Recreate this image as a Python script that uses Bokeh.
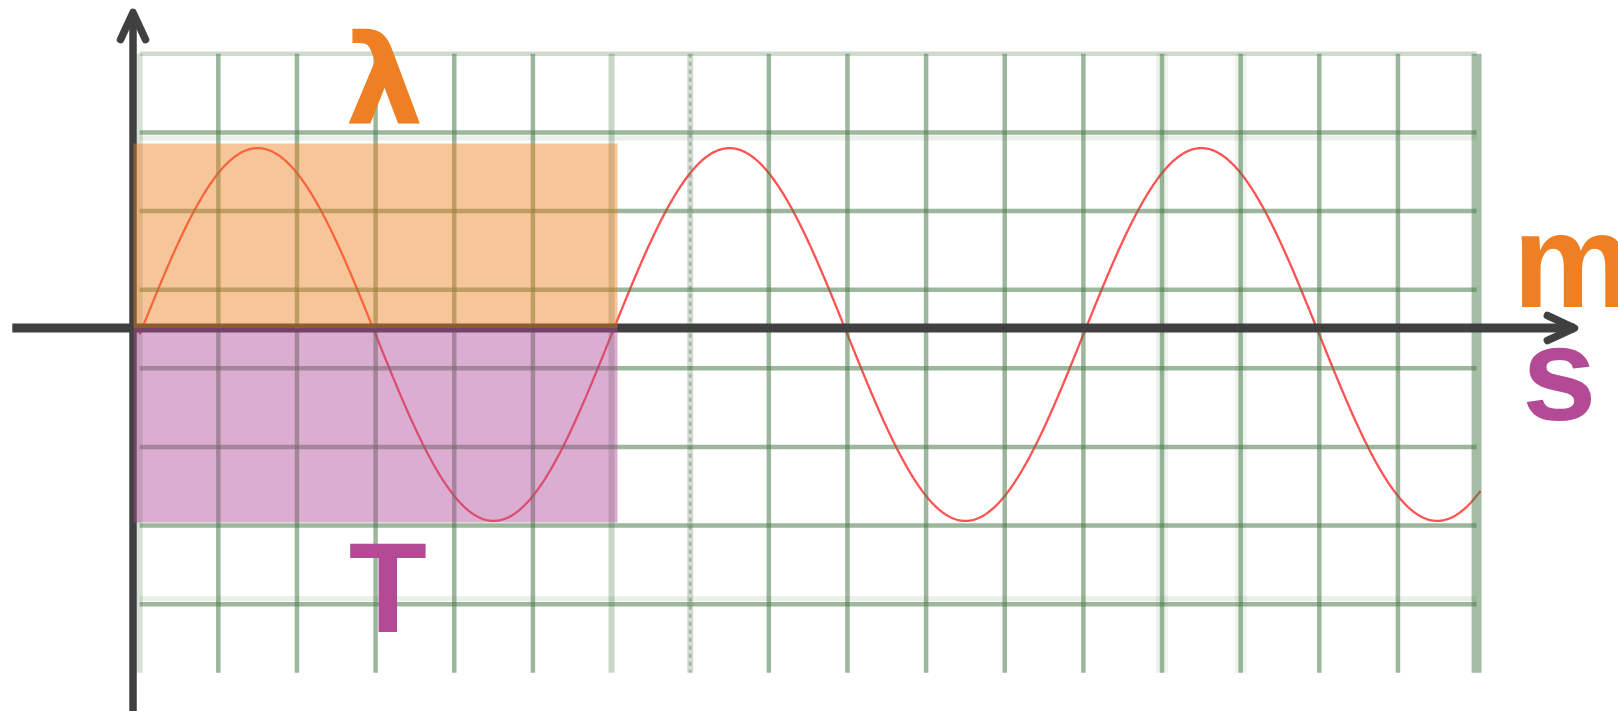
import numpy as np
from bokeh.plotting import figure
from bokeh.models import Range1d, ColumnDataSource
from bokeh.embed import file_html
from bokeh.resources import INLINE
from bokeh.core.properties import value

# ---------------- data (grid units: 1 = one grid cell) ----------------
wavelength = 6.0        # one period spans 6 grid cells (λ on distance, T on time)
amplitude = 2.37        # peak height in grid cells
wave_offset = -0.07     # small vertical offset of the drawn wave
wave_start = 0.0
wave_end = 17.05

grid_x = [0, 1, 2, 3, 4, 5, 6, 7, 8, 9, 10, 11, 12, 13, 14, 15, 16, 17]
grid_y = [3.5, 2.5, 1.5, 0.5, -0.5, -1.5, -2.5, -3.5]
grid_y_bottom = -4.37

labels = ["λ", "m", "s", "T"]

# ---------------- figure / layout ----------------
PX = 78.64                      # pixels per grid cell
W, H = 1618, 711
x_start = -1.7701
y_top = 4.1773
p = figure(width=W, height=H,
           x_range=Range1d(x_start, x_start + W / PX),
           y_range=Range1d(y_top - H / PX, y_top),
           output_backend="svg", toolbar_location=None,
           x_axis_location=None, y_axis_location=None,
           min_border=0, outline_line_color=None,
           background_fill_color="white", border_fill_color="white")
p.xgrid.visible = False
p.ygrid.visible = False

# ---------------- wave ----------------
xs = np.linspace(wave_start, wave_end, 1500)
ys = wave_offset + amplitude * np.sin(2 * np.pi * (xs - wave_start) / wavelength)
p.line(xs, ys, line_color="#ff3434", line_width=2.3, line_alpha=0.85)

# ---------------- grid ----------------
GREEN = "#4a7c4a"
light_x = {0: 0.22, 6: 0.3, 7: 0.25}
halo_x = {13, 14}
v = dict(x0=[], y0=[], x1=[], y1=[], w=[], a=[], c=[])
def add(d, x0, y0, x1, y1, w, a, c=GREEN):
    d["x0"].append(x0); d["y0"].append(y0); d["x1"].append(x1); d["y1"].append(y1)
    d["w"].append(w); d["a"].append(a); d["c"].append(c)

for gx in grid_x:
    if gx in halo_x:
        add(v, gx, grid_y[0], gx, grid_y_bottom, 12, 0.09)
    if gx == grid_x[-1]:
        add(v, gx, grid_y[0], gx, grid_y_bottom, 10, 0.5)
    elif gx in light_x:
        add(v, gx, grid_y[0], gx, grid_y_bottom, 6, light_x[gx])
    else:
        add(v, gx, grid_y[0], gx, grid_y_bottom, 4.5, 0.55)
for gy in grid_y:
    a = 0.28 if gy == grid_y[0] else 0.55
    add(v, grid_x[0], gy, grid_x[-1], gy, 4.5, a)
# faint doubled bands seen in the reference
add(v, grid_x[0], grid_y[1] - 0.07, grid_x[-1], grid_y[1] - 0.07, 5, 0.12)
add(v, grid_x[0], grid_y[-1] + 0.07, grid_x[-1], grid_y[-1] + 0.07, 5, 0.12)
p.segment(x0="x0", y0="y0", x1="x1", y1="y1", line_width="w", line_alpha="a",
          line_color="c", line_cap="butt", source=ColumnDataSource(v))
# dashed-looking line at x = 7
p.segment(x0=[7], y0=[grid_y[0]], x1=[7], y1=[grid_y_bottom], line_color="#666666",
          line_alpha=0.35, line_width=3, line_dash="4 4", line_cap="butt")

# ---------------- axes with arrows ----------------
AX = "#404040"
yaxis_x = -0.085
xaxis_y = 0.012
p.segment(x0=[-1.62], y0=[xaxis_y], x1=[18.245], y1=[xaxis_y], line_color=AX,
          line_width=9, line_cap="butt")
p.segment(x0=[yaxis_x], y0=[-5.0], x1=[yaxis_x], y1=[4.025], line_color=AX,
          line_width=7.5, line_cap="butt")
p.multi_line(xs=[[-0.244, yaxis_x, 0.074], [17.90, 18.245, 17.90]],
             ys=[[3.68, 4.025, 3.68], [0.172, xaxis_y, -0.146]],
             line_color=AX, line_width=7.5, line_cap="round", line_join="round")

# ---------------- wavelength / period boxes ----------------
box_left = -0.079
box_right = wave_start + wavelength + 0.076
p.quad(left=[box_left], right=[box_right], bottom=[xaxis_y], top=[amplitude - 0.01],
       fill_color="#ee7f20", fill_alpha=0.45, line_color=None)
p.quad(left=[box_left], right=[box_right], bottom=[wave_offset - amplitude - 0.02], top=[xaxis_y],
       fill_color="#b04a98", fill_alpha=0.45, line_color=None)

# ---------------- labels ----------------
ORANGE = "#ee7f22"
PURPLE = "#b34a96"
FONT = value("Liberation Sans")
p.text(x=[3.11], y=[3.151], text=[labels[0]], text_color=ORANGE, text_font=value("DejaVu Sans"),
       text_font_style="bold", text_font_size="124px", text_align="center",
       text_baseline="alphabetic")
p.text(x=[17.46], y=[0.871], text=[labels[1]], text_color=ORANGE, text_font=FONT,
       text_font_style="bold", text_font_size="134px", text_align="left",
       text_baseline="alphabetic")
p.text(x=[18.05], y=[-0.565], text=[labels[2]], text_color=PURPLE, text_font=FONT,
       text_font_style="bold", text_font_size="134px", text_align="center",
       text_baseline="alphabetic")
p.text(x=[3.157], y=[-3.284], text=[labels[3]], text_color=PURPLE, text_font=FONT,
       text_font_style="bold", text_font_size="128px", text_align="center",
       text_baseline="alphabetic")

open("out.html", "w").write(file_html(p, INLINE))
